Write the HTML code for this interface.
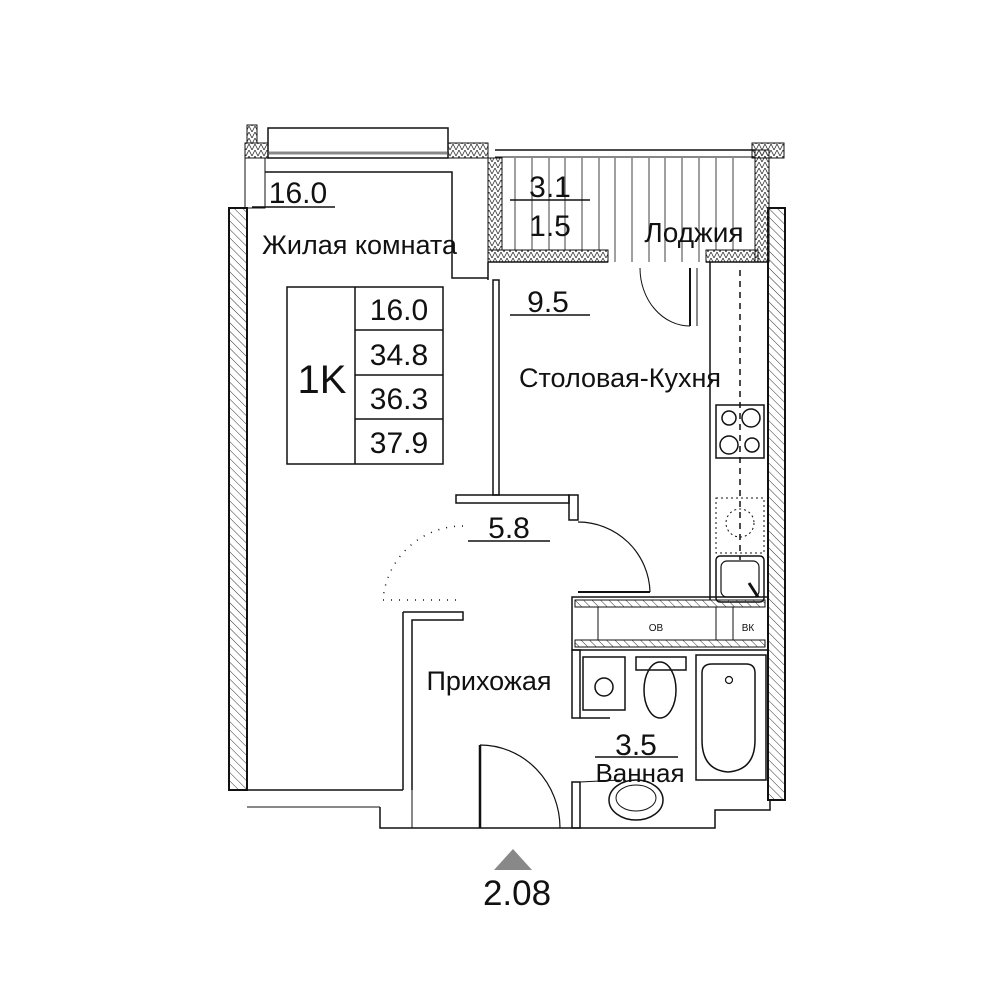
<!DOCTYPE html>
<html><head><meta charset="utf-8"><style>
html,body{margin:0;padding:0;background:#fff;}
svg{display:block}
text{font-family:"Liberation Sans",sans-serif;fill:#111}
</style></head><body>
<svg width="1000" height="1000" viewBox="0 0 1000 1000" xmlns="http://www.w3.org/2000/svg">
<defs>
<pattern id="h" width="6" height="6" patternUnits="userSpaceOnUse" patternTransform="rotate(-45)"><line x1="0" y1="0" x2="0" y2="6" stroke="#333" stroke-width="1"/></pattern>
<pattern id="z" width="6" height="6" patternUnits="userSpaceOnUse"><path d="M0 6 L3 0 L6 6" fill="none" stroke="#333" stroke-width="0.8"/></pattern>
</defs>
<g fill="none" stroke="#111" stroke-width="2">
<rect x="229" y="208" width="18" height="582" fill="url(#h)"/>
<rect x="768" y="208" width="17" height="592" fill="url(#h)"/>
<rect x="268" y="128" width="180" height="30" stroke-width="1.5"/>
<line x1="268" y1="153" x2="448" y2="153" stroke-width="3" stroke="#888"/>
<rect x="245" y="143" width="23" height="15" fill="url(#z)" stroke-width="1"/>
<rect x="247" y="125" width="10" height="18" fill="url(#z)" stroke-width="1"/>
<rect x="448" y="143" width="40" height="15" fill="url(#z)" stroke-width="1"/>
<rect x="245" y="158" width="20" height="50" stroke-width="1"/>
<polyline points="265,172 452,172 452,278 488,278" stroke-width="1.5"/>
<rect x="488" y="158" width="14" height="92" fill="url(#z)" stroke-width="1"/>
<rect x="488" y="250" width="120" height="12" fill="url(#z)" stroke-width="1"/>
<rect x="706" y="250" width="52" height="12" fill="url(#z)" stroke-width="1"/>
<rect x="755" y="150" width="14" height="112" fill="url(#z)" stroke-width="1"/>
<rect x="752" y="143" width="32" height="15" fill="url(#z)" stroke-width="1"/>
<line x1="495" y1="150" x2="755" y2="150" stroke-width="1.5"/>
<line x1="495" y1="157" x2="755" y2="157" stroke-width="1"/>
<g stroke-width="0.8">
<line x1="515" y1="158" x2="515" y2="250"/><line x1="532" y1="158" x2="532" y2="250"/><line x1="549" y1="158" x2="549" y2="250"/><line x1="565" y1="158" x2="565" y2="250"/><line x1="582" y1="158" x2="582" y2="250"/><line x1="599" y1="158" x2="599" y2="250"/><line x1="615" y1="158" x2="615" y2="262"/><line x1="632" y1="158" x2="632" y2="262"/><line x1="649" y1="158" x2="649" y2="262"/><line x1="665" y1="158" x2="665" y2="262"/><line x1="682" y1="158" x2="682" y2="262"/><line x1="699" y1="158" x2="699" y2="262"/><line x1="716" y1="158" x2="716" y2="250"/><line x1="733" y1="158" x2="733" y2="250"/>
</g>
<line x1="488" y1="262" x2="608" y2="262" stroke-width="1.5"/>
<line x1="488" y1="262" x2="488" y2="280" stroke-width="1.5"/>
<line x1="706" y1="262" x2="768" y2="262" stroke-width="1.5"/>
<path d="M640 268 A50 58 0 0 0 690 326" stroke-width="1"/>
<line x1="690" y1="268" x2="690" y2="326" stroke-width="2"/>
<line x1="697" y1="268" x2="697" y2="326" stroke-width="1"/>
<line x1="710" y1="262" x2="710" y2="600" stroke-width="1.5"/>
<rect x="493" y="280" width="6" height="215" stroke-width="1.5"/>
<rect x="456" y="495" width="113" height="8" stroke-width="1.5"/>
<rect x="569" y="495" width="9" height="25" stroke-width="1.5"/>
<path d="M578 522 A72 72 0 0 1 650 592" stroke-width="1.2"/>
<line x1="578" y1="592" x2="650" y2="592" stroke-width="2"/>
<path d="M463 526 A80 80 0 0 0 383 600" stroke-dasharray="1 7" stroke-width="1.5"/>
<line x1="383" y1="600" x2="463" y2="600" stroke-dasharray="1 7" stroke-width="1.5"/>
<polyline points="403,612 463,612 463,620 412,620 412,790" stroke-width="1.5"/>
<line x1="403" y1="612" x2="403" y2="790" stroke-width="1.5"/>
<line x1="247" y1="790" x2="403" y2="790" stroke-width="1.5"/>
<line x1="247" y1="807" x2="380" y2="807" stroke-width="1"/>
<polyline points="380,807 380,828 715,828 715,810 770,810 770,800" stroke-width="1.5"/>
<line x1="412" y1="828" x2="412" y2="790" stroke-width="1"/>
<line x1="480" y1="745" x2="480" y2="828" stroke-width="2.5"/>
<path d="M480 745 A80 83 0 0 1 560 828" stroke-width="1.2"/>
<line x1="740" y1="270" x2="740" y2="560" stroke-dasharray="6 5" stroke-width="1.5"/>
<rect x="716" y="405" width="48" height="53" stroke-width="1.5"/>
<circle cx="729" cy="418" r="7" stroke-width="1.5"/><circle cx="751" cy="418" r="9" stroke-width="1.5"/>
<circle cx="729" cy="445" r="9" stroke-width="1.5"/><circle cx="752" cy="445" r="7" stroke-width="1.5"/>
<rect x="716" y="498" width="48" height="55" stroke-dasharray="2 3" stroke-width="1"/>
<circle cx="740" cy="523" r="14" stroke-dasharray="2 3" stroke-width="1"/>
<rect x="716" y="556" width="48" height="46" rx="4" stroke-width="1.5"/>
<rect x="721" y="561" width="38" height="36" rx="6" stroke-width="1.2"/>
<line x1="749" y1="583" x2="758" y2="597" stroke-width="3"/>
<rect x="572" y="597" width="196" height="53" stroke-width="1.5"/>
<rect x="575" y="600" width="190" height="7" fill="url(#h)" stroke-width="1"/>
<rect x="575" y="640" width="190" height="7" fill="url(#h)" stroke-width="1"/>
<rect x="598" y="607" width="118" height="33" stroke-width="1"/>
<line x1="733" y1="607" x2="733" y2="640" stroke-width="1"/>
<rect x="572" y="650" width="8" height="68" stroke-width="1.5"/>
<rect x="572" y="782" width="8" height="46" stroke-width="1.5"/>
<line x1="580" y1="718" x2="610" y2="718" stroke-width="1.5"/>
<path d="M580 782 L620 780" stroke-width="1"/>
<rect x="583" y="657" width="42" height="53" stroke-width="1.5"/>
<circle cx="604" cy="687" r="9" stroke-width="1.5"/>
<rect x="636" y="657" width="50" height="13" stroke-width="1.5"/>
<ellipse cx="660" cy="690" rx="16" ry="28" stroke-width="1.5"/>
<rect x="696" y="655" width="70" height="125" stroke-width="1.5"/>
<path d="M702 673 Q702 664 712 664 L746 664 Q755 664 755 673 L755 740 Q755 770 728 772 Q702 770 702 740 Z" stroke-width="1.5"/>
<circle cx="729" cy="680" r="3.5" stroke-width="1.2"/>
<ellipse cx="636" cy="800" rx="27" ry="20" stroke-width="1.5"/>
<ellipse cx="636" cy="798" rx="20" ry="13" stroke-width="1"/>
<rect x="287" y="287" width="156" height="177" stroke-width="1.5"/>
<line x1="355" y1="287" x2="355" y2="464" stroke-width="1.5"/>
<line x1="355" y1="330" x2="443" y2="330" stroke-width="1.5"/>
<line x1="355" y1="375" x2="443" y2="375" stroke-width="1.5"/>
<line x1="355" y1="419" x2="443" y2="419" stroke-width="1.5"/>
<line x1="252" y1="207" x2="335" y2="207" stroke-width="1.5"/>
<line x1="510" y1="200" x2="590" y2="200" stroke-width="1.5"/>
<line x1="510" y1="315" x2="590" y2="315" stroke-width="1.5"/>
<line x1="468" y1="541" x2="550" y2="541" stroke-width="1.5"/>
<line x1="595" y1="757" x2="678" y2="757" stroke-width="1.5"/>
</g>
<polygon points="513,849 494,870 532,870" fill="#888"/>
<text x="298" y="203" font-size="30" text-anchor="middle">16.0</text>
<text x="262" y="254" font-size="27">Жилая комната</text>
<text x="322" y="393" font-size="40" text-anchor="middle">1K</text>
<text x="399" y="320" font-size="30" text-anchor="middle">16.0</text>
<text x="399" y="365" font-size="30" text-anchor="middle">34.8</text>
<text x="399" y="409" font-size="30" text-anchor="middle">36.3</text>
<text x="399" y="453" font-size="30" text-anchor="middle">37.9</text>
<text x="550" y="197" font-size="30" text-anchor="middle">3.1</text>
<text x="550" y="236" font-size="30" text-anchor="middle">1.5</text>
<text x="694" y="242" font-size="28" text-anchor="middle">Лоджия</text>
<text x="548" y="312" font-size="30" text-anchor="middle">9.5</text>
<text x="620" y="387" font-size="27" text-anchor="middle">Столовая-Кухня</text>
<text x="509" y="538" font-size="30" text-anchor="middle">5.8</text>
<text x="489" y="690" font-size="27" text-anchor="middle">Прихожая</text>
<text x="636" y="755" font-size="30" text-anchor="middle">3.5</text>
<text x="640" y="782" font-size="26" text-anchor="middle">Ванная</text>
<text x="656" y="631" font-size="10" text-anchor="middle">ОВ</text>
<text x="748" y="631" font-size="10" text-anchor="middle">ВК</text>
<text x="517" y="905" font-size="35" text-anchor="middle">2.08</text>
</svg>
</body></html>
